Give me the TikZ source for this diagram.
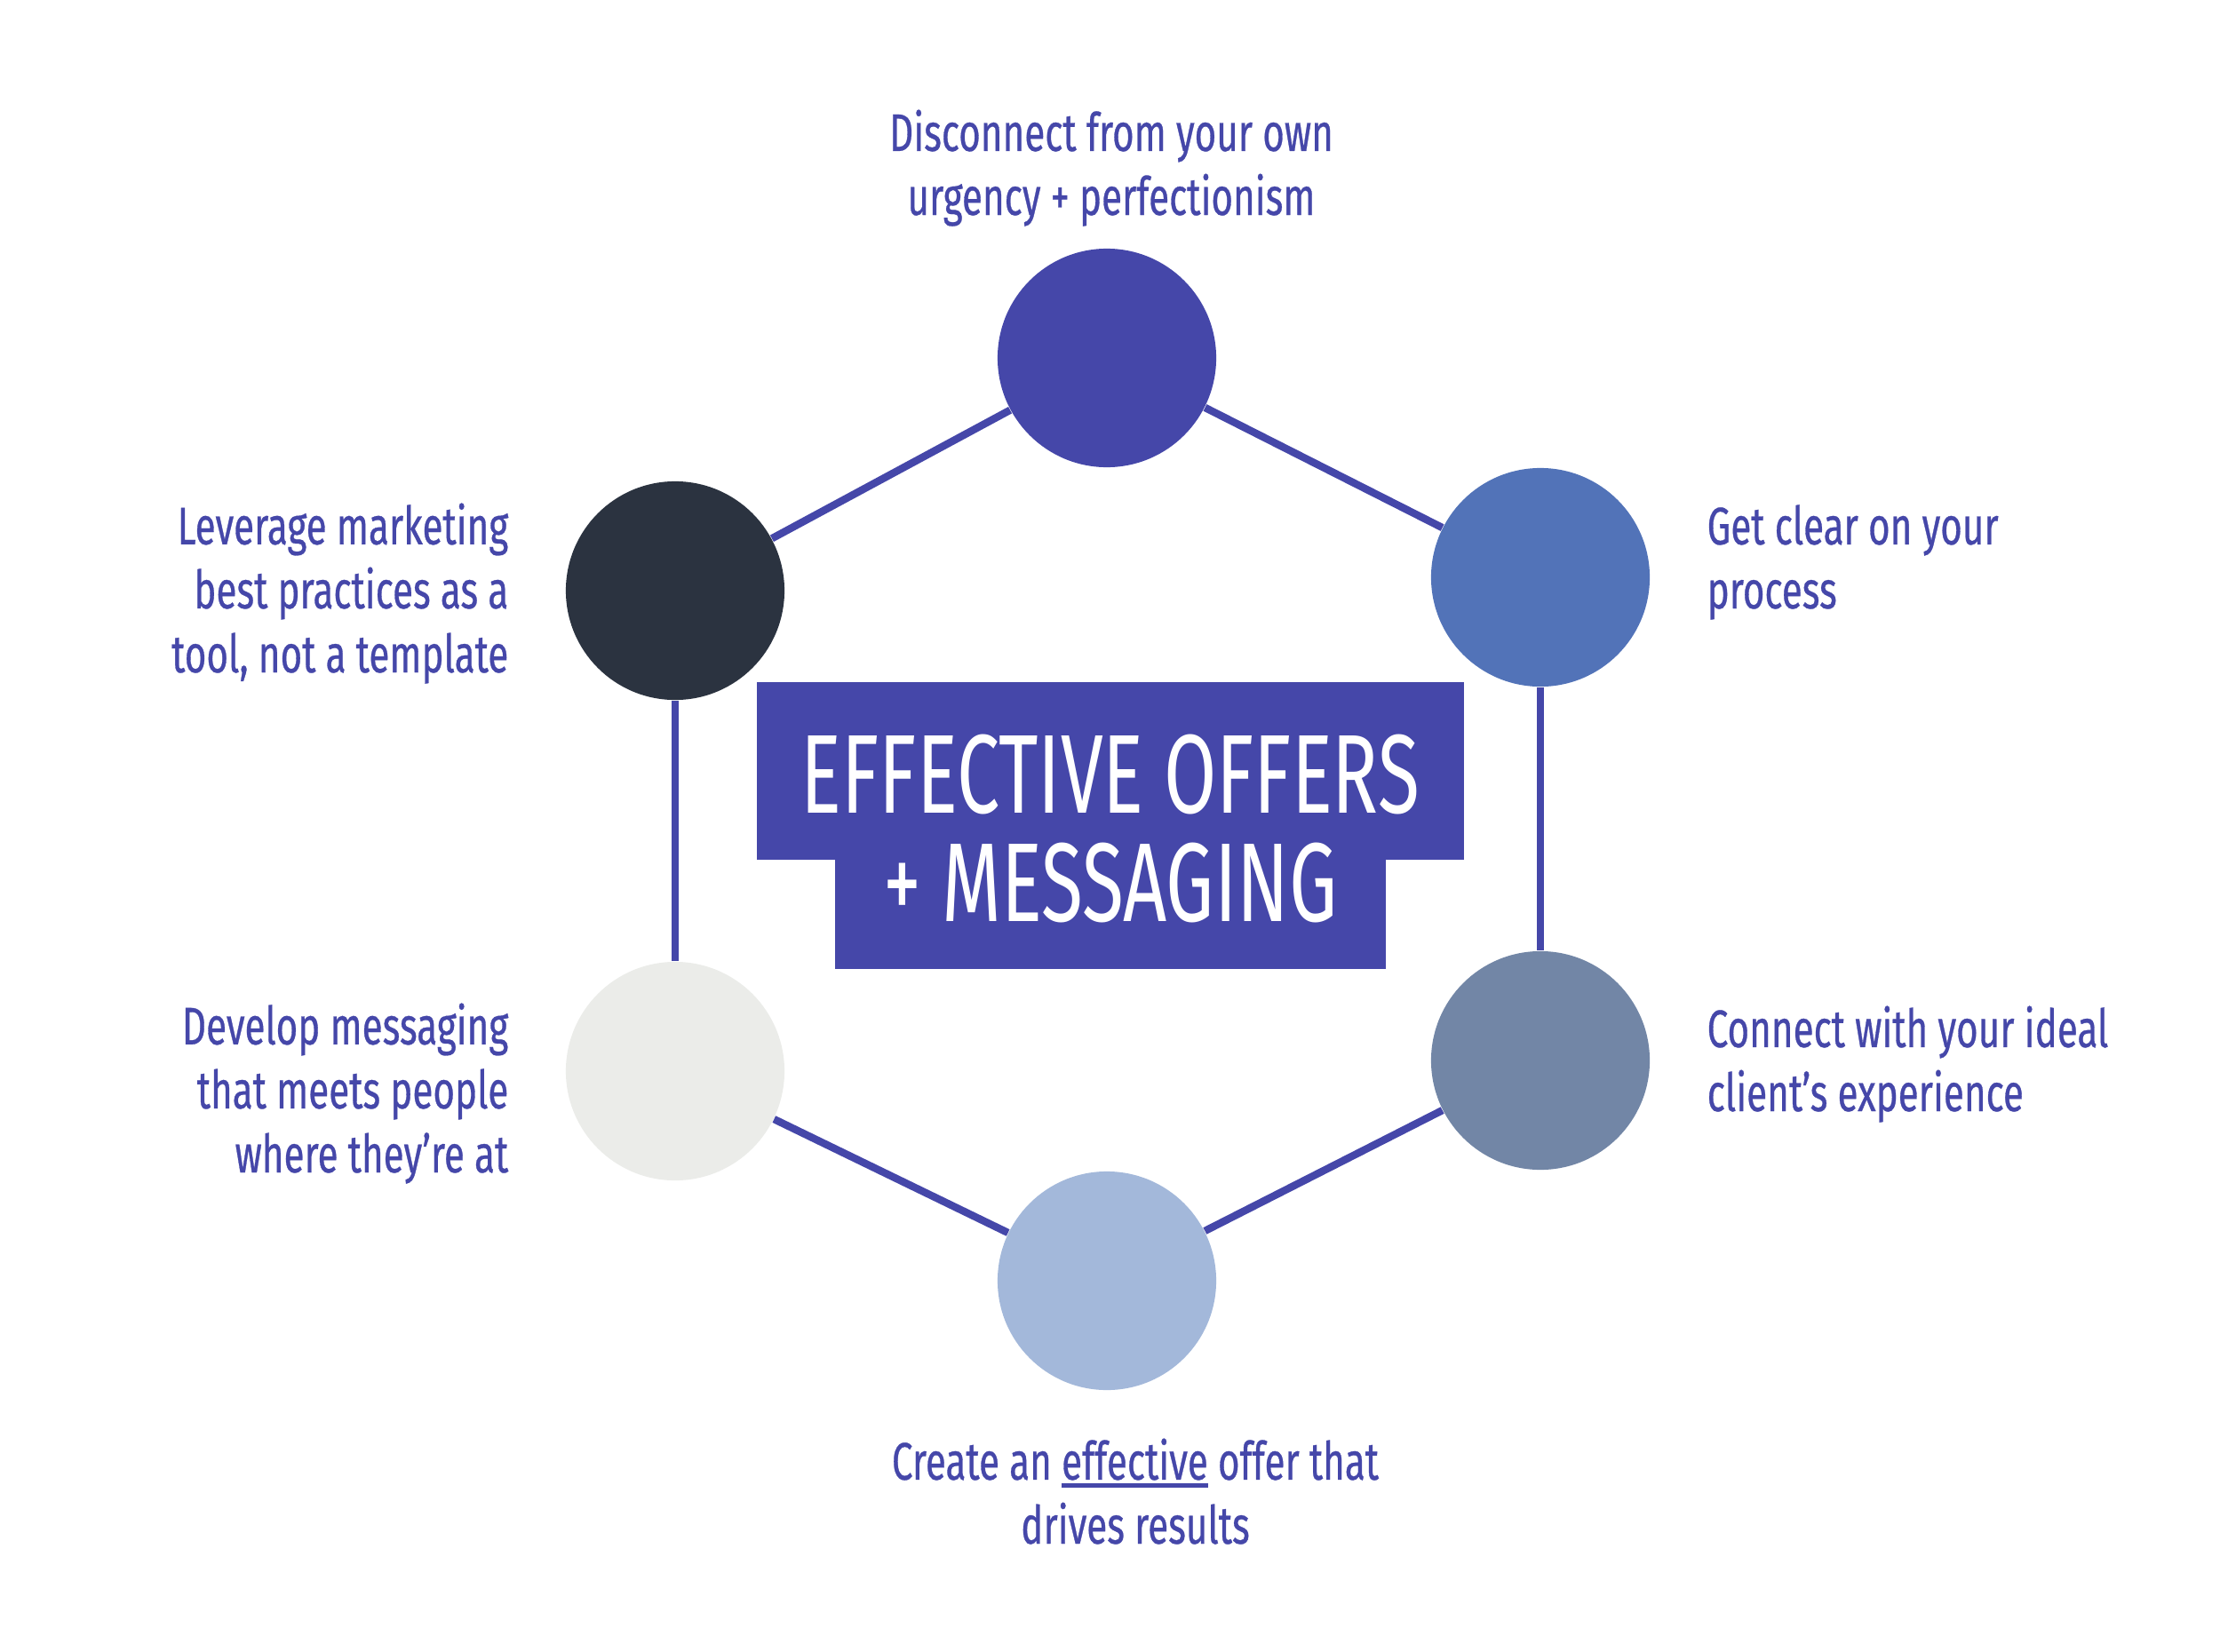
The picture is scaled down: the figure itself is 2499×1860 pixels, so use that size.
\documentclass[tikz,border=0pt]{standalone}
\usepackage{fontspec}
\newfontfamily\labelfont[FakeStretch=0.71, FakeBold=0.5]{Fira Sans}
\newfontfamily\titlefont[FakeStretch=0.68]{Fira Sans}
\usepackage{xcolor}
\definecolor{offerblue}{RGB}{69,71,169}
\definecolor{processblue}{RGB}{82,115,184}
\definecolor{clientgrey}{RGB}{114,134,166}
\definecolor{offerpale}{RGB}{163,184,218}
\definecolor{messagewhite}{RGB}{235,236,233}
\definecolor{leveragedark}{RGB}{43,51,64}
\newcommand{\offerul}[1]{\setbox0\hbox{#1}\rlap{\rule[-2.6pt]{\wd0}{1.4pt}}\box0}

\begin{document}
\begin{tikzpicture}[x=0.01cm, y=-0.01cm,
    bubble/.style={circle, minimum size=2.46cm, inner sep=0pt},
    link/.style={offerblue, line width=2.4pt},
    lab/.style={inner sep=0pt, text=offerblue, font=\labelfont\fontsize{16.9}{20.5}\selectfont}]

      \useasboundingbox (0, 0) rectangle (2499, 1860);

      % the six steps
      \node[bubble, fill=offerblue] (disconnect) at (1246, 403) {};
      \node[bubble, fill=processblue] (process) at (1734, 650) {};
      \node[bubble, fill=clientgrey] (connect) at (1734, 1194) {};
      \node[bubble, fill=offerpale] (offer) at (1246, 1442) {};
      \node[bubble, fill=messagewhite] (messaging) at (760, 1206) {};
      \node[bubble, fill=leveragedark] (leverage) at (760, 665) {};

      \draw[link] (disconnect) -- (process);
      \draw[link] (process) -- (connect);
      \draw[link] (connect) -- (offer);
      \draw[link] (offer) -- (messaging);
      \draw[link] (messaging) -- (leverage);
      \draw[link] (leverage) -- (disconnect);

      % centre box, two steps wide
      \fill[offerblue] (852, 768) rectangle (1648, 968);
      \fill[offerblue] (940, 967) rectangle (1560, 1091);
      \node[inner sep=0pt, anchor=base, text=white, align=center,
        font=\titlefont\fontsize{35.9}{34.6}\selectfont] (title) at (1250, 1037)
        {EFFECTIVE OFFERS\\+ MESSAGING};

      % labels (anchored on their last line)
      \node[lab, anchor=base, align=center] (disconnectlab) at (1251, 242)
        {Disconnect from your own\\urgency + perfectionism};
      \node[lab, anchor=base west, align=left] (processlab) at (1921, 685)
        {Get clear on your\\process};
      \node[lab, anchor=base west, align=left] (connectlab) at (1921, 1251)
        {Connect with your ideal\\client’s experience};
      \node[lab, anchor=base, align=center] (offerlab) at (1278, 1738)
        {Create an \offerul{effective}\ offer that\\drives results};
      \node[lab, anchor=base east, align=right] (messaginglab) at (573, 1320)
        {Develop messaging\\that meets people\\where they’re at};
      \node[lab, anchor=base east, align=right] (leveragelab) at (573, 757)
        {Leverage marketing\\best practices as a\\tool, not a template};
\end{tikzpicture}
\end{document}
